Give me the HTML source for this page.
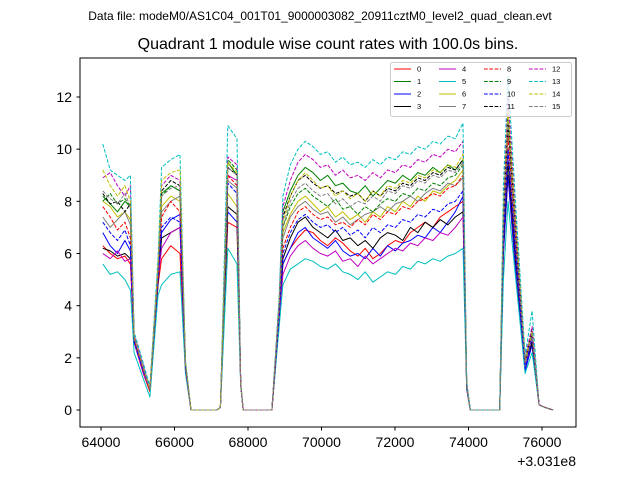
<!DOCTYPE html>
<html><head><meta charset="utf-8"><style>
body{margin:0;background:#fff;}
svg{display:block;font-family:"Liberation Sans","DejaVu Sans",sans-serif;}
</style></head><body>
<svg id="chart" width="640" height="480" viewBox="0 0 640 480">
<rect width="640" height="480" fill="#fff"/>
<text x="320" y="20" font-size="12" text-anchor="middle">Data file: modeM0/AS1C04_001T01_9000003082_20911cztM0_level2_quad_clean.evt</text>
<text x="328" y="49" font-size="16" text-anchor="middle">Quadrant 1 module wise count rates with 100.0s bins.</text>
<g id="plot"></g>
<rect x="80" y="58" width="496" height="369" fill="none" stroke="#000" stroke-width="1"/>
<g id="axes"></g>
<text x="576" y="466" font-size="14" text-anchor="end">+3.031e8</text>
<g id="legend"></g>
</svg>
<script>
const xTicks=[64000,66000,68000,70000,72000,74000,76000];
const yTicks=[0,2,4,6,8,10,12];
const times=[64050,64250,64450,64650,64800,64900,65150,65330,65550,65650,65900,66150,66300,66450,66800,67150,67250,67450,67700,67800,67870,68200,68400,68650,68850,
68950,69150,69360,69560,69770,69970,70170,70380,70580,70780,70990,71190,71400,71600,71800,72010,72210,72420,72620,72820,73030,73230,73440,73640,73850,
73950,74050,74400,74700,74850,74950,75075,75300,75540,75730,75920,76080,76300];
const colors=["#ff0000","#008000","#0000ff","#000000","#bf00bf","#00bfbf","#bfbf00","#808080"];
const s0=[6.3,6.0,5.8,5.9,5.6,2.6,1.4,0.7,4.8,5.8,6.3,6.0,1.5,0,0,0,0.1,7.2,7.0,1.0,0,0,0,0,3.5,5.6,6.2,6.6,6.9,6.8,6.5,6.3,6.6,6.4,6.1,5.9,6.2,5.8,6.0,6.3,6.5,6.4,6.8,7.0,7.2,7.0,7.4,7.6,7.8,8.0,0.8,0,0,0,0,6.0,9.0,5.0,1.6,2.5,0.2,0.1,0];
const s1=[8.2,7.9,7.6,8.0,7.8,2.8,1.6,0.8,5.4,8.3,8.6,8.4,1.8,0,0,0,0.1,9.5,9.0,1.0,0,0,0,0,4.2,7.6,8.4,9.0,9.3,9.1,8.8,9.0,8.6,8.7,8.4,8.3,8.6,8.2,8.5,8.8,8.7,9.0,8.8,9.1,9.0,9.3,9.1,9.4,9.2,9.6,1.0,0,0,0,0,7.5,11.0,6.5,1.8,3.0,0.2,0.1,0];
const s2=[6.8,6.3,6.0,6.5,6.1,2.6,1.5,0.8,5.0,6.8,7.3,7.5,1.6,0,0,0,0.1,7.6,7.2,1.0,0,0,0,0,3.8,5.6,6.2,6.8,7.0,6.6,6.4,6.2,6.5,6.1,5.9,6.0,5.8,6.2,5.9,6.3,6.1,6.4,6.5,6.7,6.6,7.0,6.8,7.2,7.6,8.2,0.8,0,0,0,0,6.0,9.0,5.0,1.5,2.5,0.2,0.1,0];
const s3=[6.2,6.1,5.9,6.0,5.8,2.7,1.5,0.8,4.8,6.6,6.8,7.0,1.6,0,0,0,0.1,7.8,7.5,1.0,0,0,0,0,3.6,5.8,6.6,7.2,7.4,7.0,6.8,6.6,6.9,6.5,6.6,6.3,6.5,6.2,6.6,6.8,6.7,6.5,7.0,6.8,7.2,7.0,7.3,7.1,7.4,7.6,0.9,0,0,0,0,6.4,9.5,5.5,1.7,2.6,0.2,0.1,0];
const s4=[6.0,5.8,6.1,5.7,5.8,2.6,1.4,0.8,5.0,6.2,6.8,7.0,1.6,0,0,0,0.1,9.0,8.8,1.0,0,0,0,0,3.4,5.2,5.9,6.3,6.5,6.2,6.0,5.9,6.1,5.7,5.8,5.5,5.9,5.6,5.8,6.0,6.2,6.1,6.4,6.3,6.6,6.5,6.8,6.7,7.0,7.4,0.8,0,0,0,0,6.6,10.0,5.8,1.6,2.8,0.2,0.1,0];
const s5=[5.6,5.2,5.3,5.0,4.6,2.2,1.2,0.5,4.4,4.8,5.2,5.3,1.4,0,0,0,0.1,6.2,5.6,0.9,0,0,0,0,3.2,4.8,5.4,5.6,5.8,5.7,5.5,5.4,5.6,5.3,5.2,5.0,5.3,4.9,5.1,5.3,5.2,5.5,5.4,5.7,5.6,5.8,5.7,5.9,6.0,6.2,0.8,0,0,0,0,5.0,8.0,4.8,1.4,2.2,0.2,0.1,0];
const s6=[8.0,7.8,7.4,7.6,7.3,2.8,1.6,0.8,5.4,7.8,8.2,8.0,1.7,0,0,0,0.1,8.3,7.8,1.0,0,0,0,0,3.8,6.8,7.5,8.0,8.2,7.9,7.6,7.8,7.4,7.6,7.3,7.5,7.2,7.6,7.4,7.8,7.6,8.0,7.8,8.2,8.0,8.4,8.3,8.6,8.8,9.2,0.9,0,0,0,0,7.0,11.0,6.4,1.8,3.0,0.2,0.1,0];
const s7=[7.4,7.0,7.3,7.6,7.1,2.8,1.6,0.8,5.2,7.6,8.0,8.2,1.7,0,0,0,0.1,8.8,8.5,1.0,0,0,0,0,3.8,6.6,7.4,7.8,8.0,7.7,7.5,7.6,7.2,7.4,7.1,7.3,7.5,7.6,7.8,7.6,7.9,8.0,8.2,8.0,8.3,8.5,8.4,8.7,8.6,8.9,0.9,0,0,0,0,6.8,10.0,6.0,1.7,2.8,0.2,0.1,0];
const s8=[7.8,7.4,6.9,7.2,6.6,2.7,1.5,0.8,5.0,7.4,8.0,7.6,1.6,0,0,0,0.1,9.0,8.6,1.0,0,0,0,0,3.7,6.2,7.0,7.6,7.8,7.5,7.3,7.4,7.1,7.2,7.0,7.3,7.1,7.5,7.3,7.6,7.5,7.8,7.7,8.0,8.1,8.3,8.2,8.5,8.6,9.0,0.9,0,0,0,0,7.0,10.5,6.2,1.8,2.9,0.2,0.1,0];
const s9=[8.0,8.3,7.9,8.1,7.8,2.8,1.6,0.8,5.4,8.2,8.6,8.4,1.8,0,0,0,0.1,9.6,9.2,1.0,0,0,0,0,4.0,7.0,7.8,8.3,8.5,8.2,8.0,7.8,8.1,7.7,7.8,7.5,7.8,7.6,7.9,8.1,8.0,8.3,8.2,8.5,8.4,8.7,8.6,8.9,9.0,9.4,1.0,0,0,0,0,7.6,11.5,6.8,1.9,3.1,0.2,0.1,0];
const s10=[7.2,6.8,6.5,6.9,6.3,2.6,1.5,0.8,5.0,7.0,7.4,7.2,1.6,0,0,0,0.1,8.7,8.3,1.0,0,0,0,0,3.6,6.0,6.8,7.3,7.5,7.2,7.0,7.1,6.8,7.0,6.7,6.9,6.6,7.0,6.8,7.1,7.0,7.3,7.2,7.5,7.4,7.7,7.6,7.9,8.0,8.4,0.9,0,0,0,0,6.6,10.0,5.8,1.6,2.8,0.2,0.1,0];
const s11=[8.3,7.9,8.0,7.6,7.9,2.8,1.6,0.8,5.4,8.4,8.8,8.6,1.8,0,0,0,0.1,9.3,9.0,1.0,0,0,0,0,4.0,7.4,8.2,8.8,9.0,8.7,8.5,8.6,8.3,8.4,8.2,8.3,8.0,8.4,8.2,8.5,8.4,8.7,8.6,8.9,8.8,9.1,9.0,9.3,9.2,9.6,1.0,0,0,0,0,7.4,11.0,6.6,1.9,3.0,0.2,0.1,0];
const s12=[8.9,9.1,8.6,8.2,8.6,2.9,1.7,0.8,5.6,8.6,9.0,8.8,1.8,0,0,0,0.1,9.7,9.4,1.0,0,0,0,0,4.2,7.8,8.8,9.5,9.8,9.6,9.3,9.4,9.0,9.2,8.9,9.0,8.8,9.1,8.9,9.2,9.1,9.4,9.3,9.6,9.5,9.8,9.7,10.0,9.9,10.3,1.0,0,0,0,0,8.0,12.0,7.0,2.0,3.2,0.2,0.1,0];
const s13=[10.2,9.2,9.0,8.8,9.0,3.0,1.8,0.9,5.8,9.3,9.6,9.8,1.9,0,0,0,0.1,10.9,10.4,1.1,0,0,0,0,4.4,8.2,9.4,10.0,10.3,10.1,9.8,9.9,9.5,9.7,9.4,9.5,9.3,9.6,9.4,9.7,9.6,9.9,9.8,10.1,10.0,10.3,10.2,10.5,10.4,11.0,1.1,0,0,0,0,8.6,12.8,7.5,2.1,3.8,0.2,0.1,0];
const s14=[9.2,8.6,8.2,8.6,8.0,2.8,1.6,0.8,5.5,8.8,9.1,9.2,1.8,0,0,0,0.1,9.5,9.1,1.0,0,0,0,0,4.1,7.2,8.2,8.8,9.1,8.8,8.5,8.6,8.2,8.4,8.1,8.3,8.0,8.4,8.2,8.6,8.5,8.8,8.7,9.0,8.9,9.2,9.1,9.4,9.3,9.8,1.0,0,0,0,0,7.6,11.5,6.8,1.9,3.0,0.2,0.1,0];
const s15=[8.4,8.1,7.9,8.3,7.8,2.8,1.6,0.8,5.3,8.2,8.5,8.6,1.8,0,0,0,0.1,9.3,9.0,1.0,0,0,0,0,4.0,7.0,8.0,8.5,8.7,8.4,8.2,8.3,7.9,8.1,7.8,8.0,7.9,8.2,8.0,8.4,8.3,8.6,8.5,8.8,8.7,9.0,8.9,9.2,9.1,9.5,1.0,0,0,0,0,7.2,11.0,6.4,1.8,2.9,0.2,0.1,0];
const series=[s0,s1,s2,s3,s4,s5,s6,s7,s8,s9,s10,s11,s12,s13,s14,s15];

const NS="http://www.w3.org/2000/svg";
function xS(t){return 101+(t-64000)*(441/12000);}
function yS(v){return 410-v*(313/12);}
function mk(tag,attrs,parent){const e=document.createElementNS(NS,tag);for(const k in attrs)e.setAttribute(k,attrs[k]);parent.appendChild(e);return e;}
const plot=document.getElementById('plot');
const axes=document.getElementById('axes');
series.forEach((s,i)=>{
  const pts=s.map((v,j)=>xS(times[j]).toFixed(1)+","+yS(v).toFixed(1)).join(" ");
  const p=mk('polyline',{points:pts,fill:'none',stroke:colors[i%8],'stroke-width':1,'stroke-linejoin':'round'},plot);
  if(i>=8)p.setAttribute('stroke-dasharray','3.7,1.6');
  
  
});
xTicks.forEach(t=>{
  const x=xS(t);
  const l=mk('line',{x1:x,x2:x,y1:427,y2:430.5,stroke:'#000'},axes);
  
  
  const tx=mk('text',{x:x,y:447,'font-size':14,'text-anchor':'middle'},axes);
  tx.textContent=t;
  
  
});
yTicks.forEach(v=>{
  const y=yS(v);
  const l=mk('line',{x1:76.5,x2:80,y1:y,y2:y,stroke:'#000'},axes);
  
  
  const tx=mk('text',{x:72,y:y+5,'font-size':14,'text-anchor':'end'},axes);
  tx.textContent=v;
  
  
});
const leg=document.getElementById('legend');
const box=mk('rect',{x:390.5,y:62.5,width:181,height:54,rx:2,fill:'#fff','fill-opacity':0.8,stroke:'#ccc'},leg);


const colX=[394,439,484,529], rowY=[69,81.5,94,106.5];
series.forEach((s,i)=>{
  const c=Math.floor(i/4), r=i%4;
  const g=mk('g',{},leg);
  
  
  const l=mk('line',{x1:colX[c],x2:colX[c]+17,y1:rowY[r],y2:rowY[r],stroke:colors[i%8],'stroke-width':1},g);
  if(i>=8)l.setAttribute('stroke-dasharray','3.7,1.6');
  const t=mk('text',{x:colX[c]+23,y:rowY[r]+2.5,'font-size':7.5},g);
  t.textContent=i;
});
</script>
</body></html>
